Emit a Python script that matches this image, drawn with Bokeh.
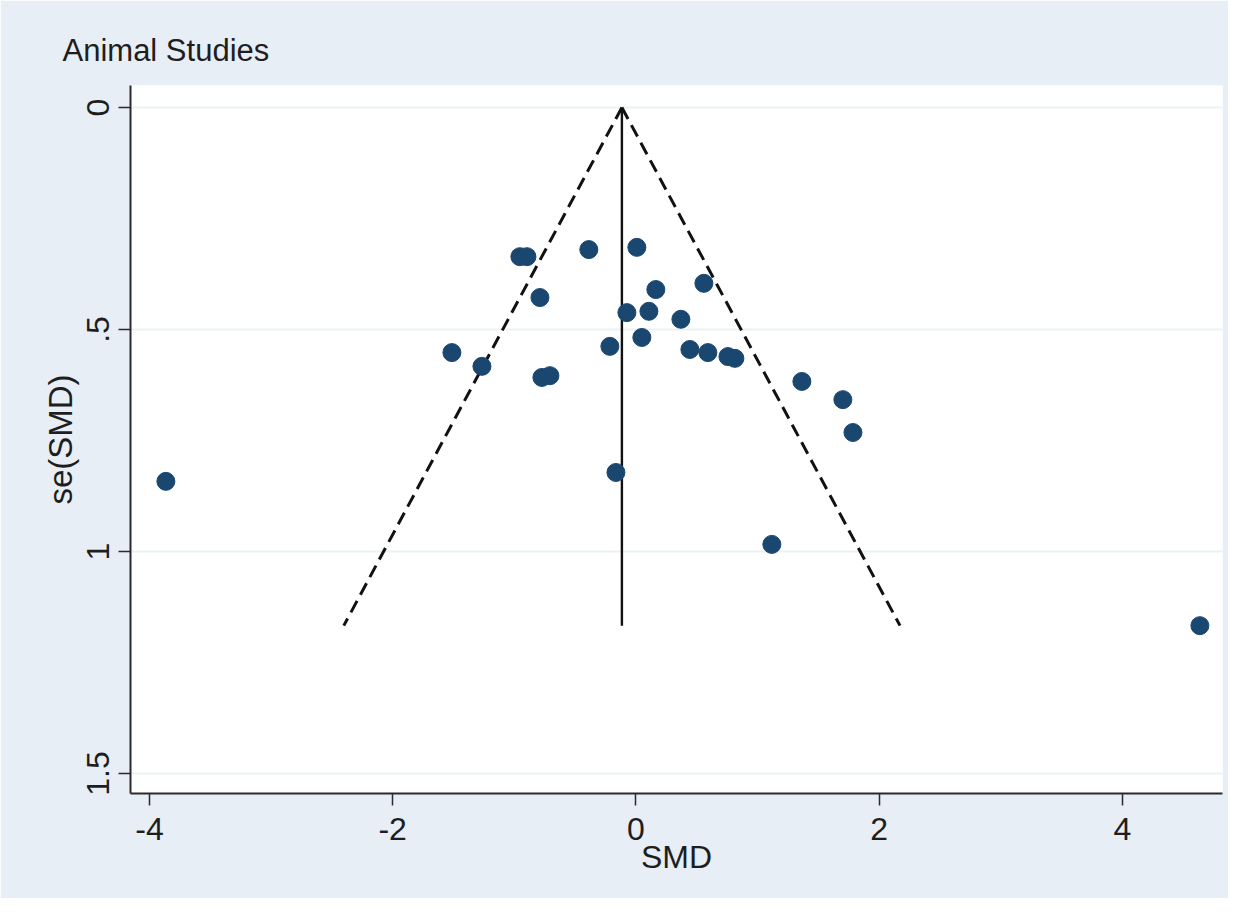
from bokeh.plotting import figure
from bokeh.models import Range1d, FixedTicker
from bokeh.embed import file_html
from bokeh.resources import INLINE

# Study effect sizes (SMD) and standard errors
smd = [-3.865, -1.513, -1.266, -0.954, -0.896, -0.789, -0.773, -0.707, -0.387,
       -0.214, -0.164, -0.074, 0.008, 0.049, 0.107, 0.164, 0.370, 0.444, 0.559,
       0.592, 0.757, 0.814, 1.118, 1.365, 1.702, 1.785, 4.638]
se = [0.842, 0.552, 0.583, 0.336, 0.336, 0.428, 0.608, 0.604, 0.320,
      0.538, 0.822, 0.462, 0.315, 0.518, 0.459, 0.410, 0.477, 0.545, 0.396,
      0.552, 0.561, 0.565, 0.984, 0.617, 0.658, 0.732, 1.167]

# pooled estimate and pseudo 95% confidence limits
pooled = -0.115
se_max = 1.167
ci_left_x = [pooled, -2.402]
ci_right_x = [pooled, 2.172]
ci_y = [0.0, se_max]

x_ticks = [-4, -2, 0, 2, 4]
x_tick_labels = {-4: "-4", -2: "-2", 0: "0", 2: "2", 4: "4"}
y_ticks = [0, 0.5, 1, 1.5]
y_tick_labels = {0: "0", 0.5: ".5", 1: "1", 1.5: "1.5"}

BG = "#E8EEF6"
FONT = "Liberation Sans"
TXT = "#1E1E1E"

p = figure(width=1228, height=898, output_backend="svg", toolbar_location=None,
           x_range=Range1d(-4.156, 4.824), y_range=Range1d(1.545, -0.0495),
           min_border_left=130, min_border_right=6, min_border_top=85,
           min_border_bottom=105)
p.background_fill_color = "white"
p.border_fill_color = BG
p.outline_line_color = None

p.title.text = "Animal Studies"
p.title.text_font = FONT
p.title.text_font_size = "31px"
p.title.text_font_style = "normal"
p.title.text_color = TXT
p.title.offset = -68
p.title.standoff = 36

# grid
p.xgrid.visible = False
p.ygrid.ticker = FixedTicker(ticks=y_ticks)
p.ygrid.grid_line_color = "#ECF1F4"
p.ygrid.grid_line_width = 2

# axes
for ax in (p.xaxis[0], p.yaxis[0]):
    ax.axis_line_color = "#2A2A2A"
    ax.axis_line_width = 2
    ax.major_tick_line_color = "#2A2A2A"
    ax.major_tick_line_width = 1.5
    ax.major_tick_out = 12
    ax.major_tick_in = 0
    ax.minor_tick_line_color = None
    ax.major_label_text_font = FONT
    ax.major_label_text_font_size = "32px"
    ax.major_label_text_color = TXT
    ax.axis_label_text_font = FONT
    ax.axis_label_text_font_size = "32px"
    ax.axis_label_text_font_style = "normal"
    ax.axis_label_text_color = TXT

p.xaxis.ticker = FixedTicker(ticks=x_ticks)
p.xaxis.major_label_overrides = x_tick_labels
p.xaxis.axis_label = "SMD"
p.xaxis.major_label_standoff = 12
p.xaxis.axis_label_standoff = -4

p.yaxis.ticker = FixedTicker(ticks=y_ticks)
p.yaxis.major_label_overrides = y_tick_labels
p.yaxis.major_label_orientation = "vertical"
p.yaxis.axis_label = "se(SMD)"
p.yaxis.axis_label_text_font_size = "33px"
p.yaxis.major_label_standoff = 9
p.yaxis.axis_label_standoff = 6

# funnel lines
p.line(ci_left_x, ci_y, line_color="#111111", line_width=3, line_dash="13 7")
p.line(ci_right_x, ci_y, line_color="#111111", line_width=3, line_dash="13 7")
p.line([pooled, pooled], ci_y, line_color="#111111", line_width=2.4)

# studies
p.scatter(smd, se, size=18, fill_color="#1A476F", line_color="#1A476F")

open("out.html", "w").write(file_html(p, INLINE))
